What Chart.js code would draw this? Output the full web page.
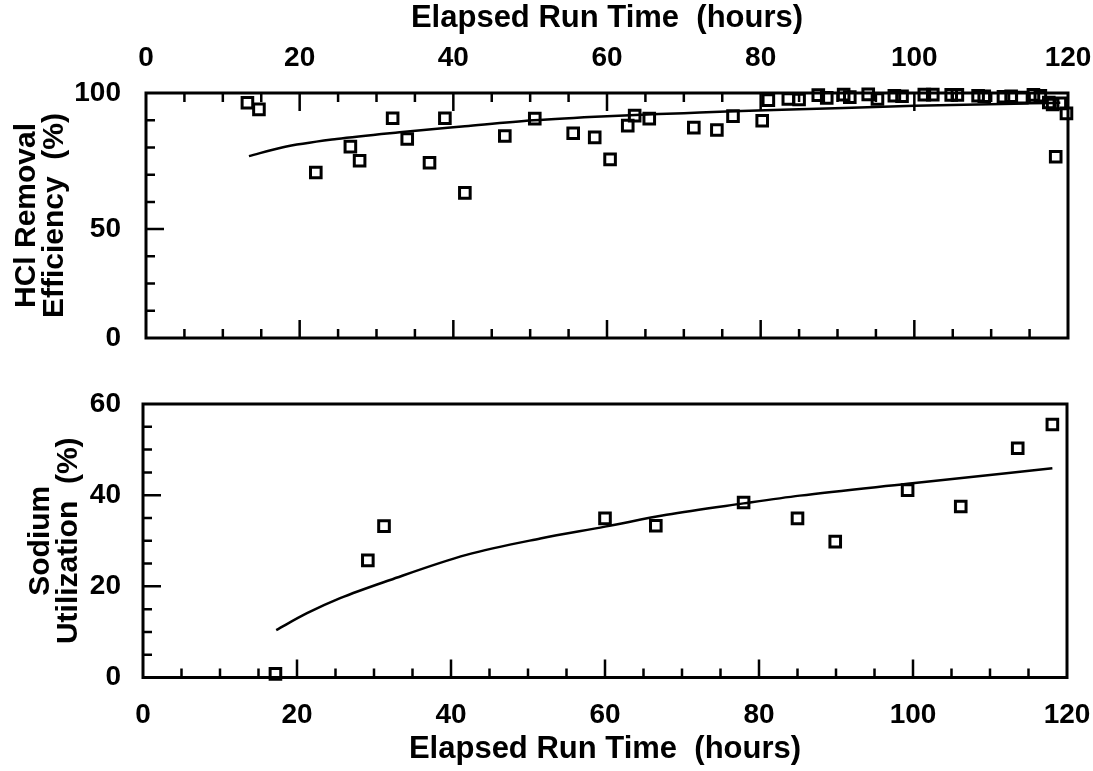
<!DOCTYPE html>
<html>
<head>
<meta charset="utf-8">
<title>HCl removal and sodium utilization vs run time</title>
<script src="https://cdn.jsdelivr.net/npm/chart.js@4.4.1/dist/chart.umd.min.js"></script>
<style>
  html, body { margin: 0; background: #fff; }
  #wrap { position: relative; width: 1093px; height: 771px; }
  canvas { position: absolute; left: 0; }
  #hclChart { top: 0; }
  #naChart { top: 372px; }
</style>
</head>
<body>
<div id="wrap">
  <canvas id="hclChart" width="1093" height="372"></canvas>
  <canvas id="naChart" width="1093" height="399"></canvas>
</div>
<script>
/* ---------- data ---------- */

// HCl removal efficiency, measured points
const HCL_HOURS = [13.2, 14.7, 22.1, 26.6, 27.8, 32.1, 34.0, 36.9, 38.9, 41.5,
  46.7, 50.6, 55.6, 58.4, 60.4, 62.7, 63.6, 65.5, 71.3, 74.3,
  76.4, 80.2, 81.0, 83.6, 85.0, 87.5, 88.6, 90.8, 91.6, 94.0,
  95.2, 97.4, 98.4, 101.3, 102.4, 104.8, 105.6, 108.3, 109.1, 111.6,
  112.6, 114.0, 115.5, 116.4, 117.5, 118.0, 118.4, 119.0, 119.8];
const HCL_EFF = [96.4, 94.0, 70.8, 80.3, 75.1, 90.7, 83.1, 74.4, 90.7, 63.3,
  84.2, 90.6, 85.2, 83.7, 75.6, 88.0, 91.7, 90.6, 87.3, 86.4,
  91.5, 89.8, 97.4, 97.8, 97.6, 99.2, 98.2, 99.4, 98.5, 99.5,
  97.8, 99.0, 98.8, 99.4, 99.4, 99.3, 99.3, 99.0, 98.8, 98.6,
  98.8, 98.3, 99.3, 99.0, 96.5, 95.8, 76.6, 96.2, 92.5];

// HCl removal efficiency, fitted curve
const HCL_FIT_HOURS = [13.4, 17.7, 24.8, 33.0, 41.5, 50.4, 60.0, 70.0, 76.4, 85.0, 100.0, 115.0, 119.0];
const HCL_FIT_EFF = [76.8, 80.0, 83.1, 85.6, 87.8, 90.0, 91.5, 92.6, 93.3, 94.0, 95.3, 96.2, 96.4];

// sodium utilization, measured points
const NA_HOURS = [17.2, 29.2, 31.3, 60.0, 66.6, 78.0, 85.0, 89.9, 99.3, 106.2, 113.6, 118.1];
const NA_UTIL = [0.8, 25.7, 33.2, 34.9, 33.3, 38.4, 34.9, 29.8, 41.1, 37.5, 50.3, 55.5];

// sodium utilization, fitted curve
const NA_FIT_HOURS = [17.3, 21.3, 25.6, 32.1, 42.0, 51.6, 60.0, 68.0, 78.0, 85.3, 99.3, 118.1];
const NA_FIT_UTIL = [10.4, 14.1, 17.4, 21.4, 26.9, 30.5, 33.1, 35.7, 38.2, 39.9, 42.5, 45.9];

// axis labels as printed on the figure
const HCL_Y_LABELS = { 100: "100", 50: "50", 10: "0" };
const NA_Y_LABELS = [0, 20, 40, 60];

/* ---------- styling ---------- */
const FAMILY = "'Liberation Sans', Arial, Helvetica, sans-serif";
const TICK_FONT = { family: FAMILY, size: 28, weight: "bold", lineHeight: 1.2 };
const TITLE_FONT = { family: FAMILY, size: 31, weight: "bold", lineHeight: 1.2 };
const YTITLE_FONT = { family: FAMILY, size: 30, weight: "bold", lineHeight: 0.95 };

const pts = (xs, ys) => xs.map((x, i) => ({ x, y: ys[i] }));

// frame around the plot + inward tick marks (minor / major)
const frameTicks = {
  id: "frameTicks",
  afterDraw(chart, args, o) {
    const { ctx, chartArea: a, scales: { x, y } } = chart;
    ctx.save();
    ctx.strokeStyle = "#000";
    ctx.lineWidth = 2.5;
    ctx.beginPath();
    for (let v = x.min + o.xStep; v < x.max; v += o.xStep) {
      const px = x.getPixelForValue(v);
      const len = v % o.xMajor === 0 ? 18 : 9;
      if (o.xSides.includes("top")) { ctx.moveTo(px, a.top); ctx.lineTo(px, a.top + len); }
      if (o.xSides.includes("bottom")) { ctx.moveTo(px, a.bottom); ctx.lineTo(px, a.bottom - len); }
    }
    for (let v = y.min + o.yStep; v < y.max; v += o.yStep) {
      const py = y.getPixelForValue(v);
      const len = v % o.yMajor === 0 ? 18 : 9;
      ctx.moveTo(a.left, py); ctx.lineTo(a.left + len, py);
    }
    ctx.stroke();
    ctx.lineWidth = 3;
    ctx.strokeRect(a.left, a.top, a.right - a.left, a.bottom - a.top);
    ctx.restore();
  },
};

function makeChart(id, cfg) {
  return new Chart(document.getElementById(id), {
    type: "scatter",
    data: {
      datasets: [
        {
          data: pts(cfg.hours, cfg.values),
          pointStyle: "rect", pointRadius: 7.5, pointHoverRadius: 7.5,
          borderColor: "#000", backgroundColor: "rgba(0,0,0,0)", borderWidth: 3,
          clip: false,
        },
        {
          data: pts(cfg.fitHours, cfg.fitValues),
          showLine: true, pointRadius: 0, borderColor: "#000", borderWidth: 2.5,
          cubicInterpolationMode: "monotone", clip: false,
        },
      ],
    },
    options: {
      responsive: false, animation: false, devicePixelRatio: 1,
      layout: { padding: cfg.padding },
      plugins: { legend: { display: false }, tooltip: { enabled: false }, frameTicks: cfg.ticks },
      scales: {
        x: {
          type: "linear", position: cfg.xPos, min: 0, max: 120,
          grid: { display: false }, border: { display: false },
          ticks: { stepSize: 20, autoSkip: false, maxRotation: 0, padding: cfg.xTickPad, color: "#000", font: TICK_FONT },
          title: { display: true, text: "Elapsed Run Time  (hours)", color: "#000", font: TITLE_FONT, padding: cfg.xTitlePad },
          // fixed axis band; label overhang is covered by the layout padding
          afterFit: (s) => { s.height = cfg.xHeight; s.paddingLeft = 0; s.paddingRight = 0; },
        },
        y: {
          type: "linear", min: cfg.yMin, max: cfg.yMax,
          grid: { display: false }, border: { display: false },
          ticks: { stepSize: cfg.ticks.yStep, autoSkip: false, padding: cfg.yTickPad, color: "#000", font: TICK_FONT, callback: cfg.yLabel },
          title: { display: true, text: cfg.yTitle, color: "#000", font: YTITLE_FONT, padding: cfg.yTitlePad },
          afterFit: (s) => { s.width = cfg.yWidth; s.paddingTop = 0; s.paddingBottom = 0; },
        },
      },
    },
    plugins: [frameTicks],
  });
}

makeChart("hclChart", {
  hours: HCL_HOURS, values: HCL_EFF, fitHours: HCL_FIT_HOURS, fitValues: HCL_FIT_EFF,
  padding: { top: 0, right: 25, bottom: 34, left: 0 },
  xPos: "top", xHeight: 93, xTickPad: 10, xTitlePad: { top: 0, bottom: 0 },
  yMin: 10, yMax: 100, yWidth: 146, yTickPad: 17,
  yLabel: (v) => HCL_Y_LABELS[v] ?? "",
  yTitle: ["HCl Removal", "Efficiency  (%)"], yTitlePad: { top: 12, bottom: 0 },
  ticks: { xStep: 5, xMajor: 20, yStep: 10, yMajor: 50, xSides: ["top", "bottom"] },
});

makeChart("naChart", {
  hours: NA_HOURS, values: NA_UTIL, fitHours: NA_FIT_HOURS, fitValues: NA_FIT_UTIL,
  padding: { top: 32, right: 26, bottom: 0, left: 0 },
  xPos: "bottom", xHeight: 93.5, xTickPad: 13, xTitlePad: { top: 0, bottom: 3 },
  yMin: 0, yMax: 60, yWidth: 143, yTickPad: 14,
  yLabel: (v) => (NA_Y_LABELS.includes(v) ? String(v) : ""),
  yTitle: ["Sodium", "Utilization  (%)"], yTitlePad: { top: 26, bottom: 0 },
  ticks: { xStep: 5, xMajor: 20, yStep: 5, yMajor: 20, xSides: ["bottom"] },
});
</script>
</body>
</html>
